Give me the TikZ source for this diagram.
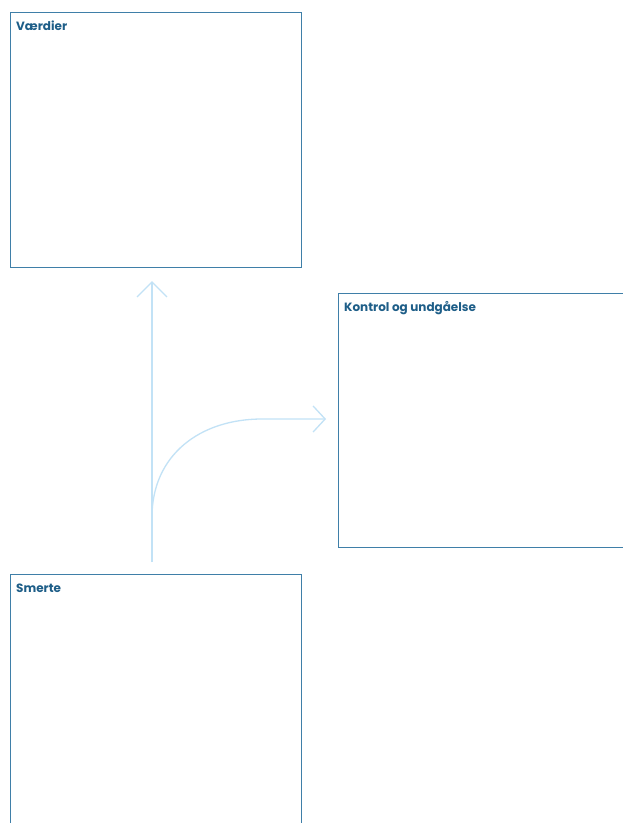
\documentclass[tikz,border=0pt]{standalone}
\usepackage{fontspec}
\setmainfont{Poppins}
\usetikzlibrary{arrows.meta}
\definecolor{boxblue}{HTML}{3F7FA8}
\definecolor{txtblue}{HTML}{1E5E88}
\definecolor{arrblue}{HTML}{C2E2F6}
\tikzset{
  box/.style={draw=boxblue, line width=1.3pt, anchor=north west, inner sep=0pt},
  title/.style={anchor=base west, text=txtblue, font=\bfseries\fontsize{12}{14}\selectfont, inner sep=0pt},
  flow/.style={draw=arrblue, line width=1.3pt},
}
\begin{document}
\begin{tikzpicture}[x=1pt,y=-1pt]
\useasboundingbox (0,0) rectangle (622,823);
\fill[white] (0,0) rectangle (622,823);
\node[box, minimum width=291pt, minimum height=255pt] (vaerdier) at (10,12) {};
\node[box, minimum width=290pt, minimum height=254pt] (kontrol) at (338,293) {};
\node[box, minimum width=291pt, minimum height=260pt] (smerte) at (10,574) {};
\node[title] (tv) at (16,30) {Værdier};
\node[title] (tk) at (344,311) {Kontrol og undgåelse};
\node[title] (ts) at (16,592) {Smerte};
\coordinate (start) at (152,562);
\coordinate (branch) at (152,517);
\coordinate (uptip) at (152,281);
\coordinate (righttip) at (326,419);
\draw[flow, -{Straight Barb[length=15pt,width=30pt]}] (start) -- (uptip);
\draw[flow, -{Straight Barb[length=12pt,width=26pt]}] (branch) .. controls (152,455) and (200,419) .. (262,419) -- (righttip);
\end{tikzpicture}
\end{document}
